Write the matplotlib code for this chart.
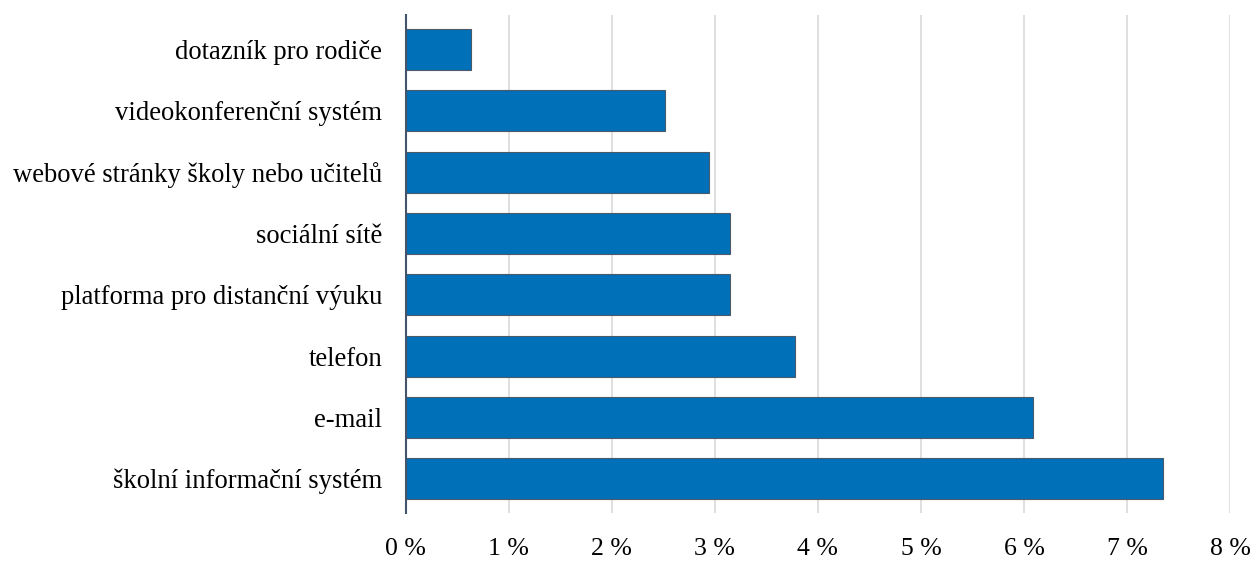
import numpy as np
import matplotlib
matplotlib.use("Agg")
import matplotlib.pyplot as plt
from matplotlib.ticker import FuncFormatter

# categories from top to bottom as in the picture
categories = [
    "dotazník pro rodiče",
    "videokonferenční systém",
    "webové stránky školy nebo učitelů",
    "sociální sítě",
    "platforma pro distanční výuku",
    "telefon",
    "e-mail",
    "školní informační systém",
]
values = [0.63, 2.52, 2.94, 3.15, 3.15, 3.78, 6.09, 7.35]
x_ticks = [0, 1, 2, 3, 4, 5, 6, 7, 8]

plt.rcParams['font.family'] = ['Liberation Serif', 'DejaVu Serif']

fig = plt.figure(figsize=(12.52, 5.81), dpi=100)
ax = fig.add_axes([0.324, 0.117, 0.6585, 0.857])

y = np.arange(len(categories))[::-1]
ax.barh(y, values, height=0.67, color='#0070b9', edgecolor='#4a5a6a', linewidth=0.8, zorder=3)

ax.set_yticks(y)
ax.set_yticklabels(categories, fontsize=19.2)
ax.set_ylim(-0.56, len(categories) - 0.44)

ax.set_xlim(0, 8)
ax.set_xticks(x_ticks)
ax.xaxis.set_major_formatter(FuncFormatter(lambda v, p: f"{v:.0f} %"))
ax.tick_params(axis='x', labelsize=18.5, length=0, pad=18)
ax.tick_params(axis='y', length=0, pad=17)

ax.grid(axis='x', color='#d9d9d9', linewidth=1.2, zorder=0)
for s in ['top', 'right', 'bottom']:
    ax.spines[s].set_visible(False)
ax.spines['left'].set_color('#44546a')
ax.spines['left'].set_linewidth(1.5)
ax.spines['left'].set_zorder(4)

fig.savefig("out.png", dpi=100)
